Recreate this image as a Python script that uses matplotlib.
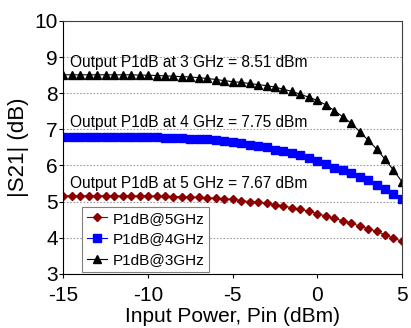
import numpy as np
import matplotlib
matplotlib.use("Agg")
import matplotlib.pyplot as plt

plt.rcParams['font.family'] = ['Liberation Sans', 'DejaVu Sans']
plt.rcParams['axes.unicode_minus'] = False

# input power sweep, dBm
pin = np.arange(-15, 5.01, 0.5)

# |S21| in dB
s21_3ghz = [8.51, 8.51, 8.51, 8.51, 8.51, 8.51, 8.51, 8.51, 8.51, 8.50,
            8.50, 8.49, 8.48, 8.47, 8.46, 8.45, 8.43, 8.41, 8.38, 8.35,
            8.32, 8.30, 8.27, 8.24, 8.21, 8.17, 8.11, 8.05, 7.97, 7.89,
            7.80, 7.68, 7.52, 7.35, 7.17, 6.94, 6.70, 6.46, 6.17, 5.87, 5.55]
s21_4ghz = [6.79, 6.79, 6.79, 6.79, 6.79, 6.79, 6.79, 6.79, 6.79, 6.78,
            6.78, 6.78, 6.77, 6.76, 6.75, 6.74, 6.73, 6.72, 6.70, 6.68,
            6.66, 6.61, 6.56, 6.54, 6.50, 6.44, 6.41, 6.35, 6.29, 6.21,
            6.13, 6.04, 5.94, 5.87, 5.78, 5.69, 5.59, 5.47, 5.35, 5.22, 5.06]
s21_5ghz = [5.16, 5.16, 5.16, 5.16, 5.16, 5.16, 5.16, 5.16, 5.16, 5.16,
            5.16, 5.15, 5.15, 5.14, 5.14, 5.13, 5.12, 5.11, 5.09, 5.08,
            5.06, 5.03, 5.00, 4.98, 4.96, 4.92, 4.88, 4.83, 4.79, 4.73,
            4.67, 4.60, 4.54, 4.47, 4.41, 4.32, 4.25, 4.18, 4.08, 3.99, 3.90]

notes = ["Output P1dB at 3 GHz = 8.51 dBm",
         "Output P1dB at 4 GHz = 7.75 dBm",
         "Output P1dB at 5 GHz = 7.67 dBm"]
note_y = [8.84, 7.18, 5.49]

fig = plt.figure(figsize=(4.11, 3.28), dpi=100)
ax = fig.add_axes([0.1545, 0.165, 0.8235, 0.771])

ax.plot(pin, s21_5ghz, color='#8b0000', lw=0.8, marker='D', ms=4.2, label='P1dB@5GHz')
ax.plot(pin, s21_4ghz, color='#0000ff', lw=0.8, marker='s', ms=6, label='P1dB@4GHz')
ax.plot(pin, s21_3ghz, color='black', lw=0.8, marker='^', ms=6.2, label='P1dB@3GHz')

for txt, y in zip(notes, note_y):
    ax.text(-14.6, y, txt, fontsize=11.2, va='center', ha='left')

ax.set_xlim(-15, 5)
ax.set_ylim(3, 10)
ax.set_xticks([-15, -10, -5, 0, 5])
ax.set_yticks(range(3, 11))
ax.tick_params(labelsize=15, direction='out', length=3, width=0.8)
ax.tick_params(axis='x', pad=6)
ax.tick_params(axis='y', pad=1)
ax.yaxis.grid(True, ls=(0, (1.5, 1.5)), color='#a0a0a0', lw=0.8)
ax.set_axisbelow(True)
for s in ['top', 'right']:
    ax.spines[s].set_color('#404040')
    ax.spines[s].set_linewidth(0.8)

ax.set_xlabel('Input Power, Pin (dBm)', fontsize=15, labelpad=1)
ax.set_ylabel('|S21| (dB)', fontsize=16, labelpad=4)

leg = ax.legend(loc='lower left', bbox_to_anchor=(0.055, 0.008), fontsize=11,
                fancybox=False, edgecolor='#808080', framealpha=1,
                handlelength=1.3, handletextpad=0.4, borderpad=0.3,
                labelspacing=0.45, borderaxespad=0)
leg.get_frame().set_linewidth(0.8)

fig.savefig('out.png', dpi=100)
